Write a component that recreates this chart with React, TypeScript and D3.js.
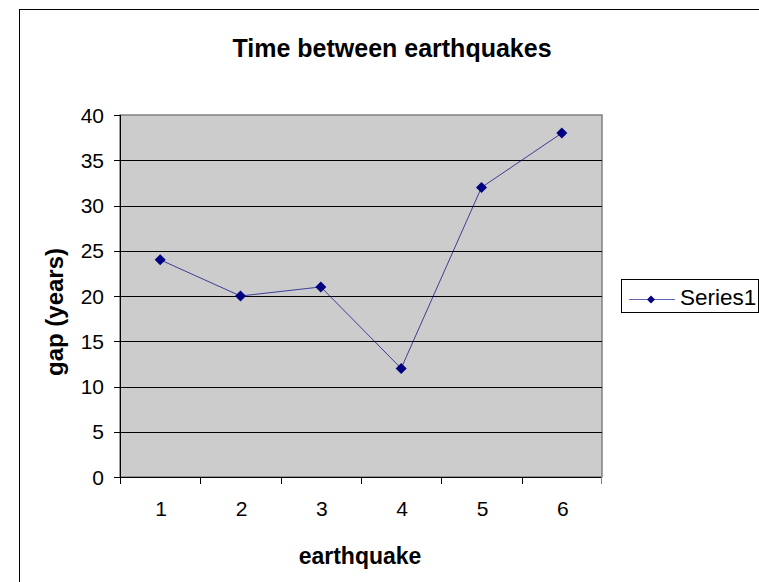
import React from "react";
import * as d3 from "d3";

const categories = ["1", "2", "3", "4", "5", "6"];
const values = [24, 20, 21, 12, 32, 38];
const yTicks = [0, 5, 10, 15, 20, 25, 30, 35, 40];

export default function App() {
  const W = 759, H = 582;
  const L = 120, R = 602, T = 115, B = 477;
  const x = d3.scaleBand<string>().domain(categories).range([L, R]);
  const y = d3.scaleLinear().domain([0, 40]).range([B, T]);
  const cx = (i: number) => (x(categories[i]) as number) + x.bandwidth() / 2;
  const line = d3.line<number>()
    .x((_, i) => cx(i))
    .y((d) => y(d));
  const font = "Arial, 'Liberation Sans', sans-serif";
  const diamond = (px: number, py: number, r = 5.5) =>
    `M${px},${py - r}L${px + r},${py}L${px},${py + r}L${px - r},${py}Z`;
  return (
    <svg width={W} height={H} style={{ position: "absolute", left: 0, top: 0 }}>
      <rect x={0} y={0} width={W} height={H} fill="#fff" />
      <rect x={19.5} y={9.5} width={W + 10} height={H + 10} fill="#fff" stroke="#000" strokeWidth={1} />
      <text x={392} y={57} textAnchor="middle" fontFamily={font} fontWeight="bold" fontSize={25}>
        Time between earthquakes
      </text>
      <rect x={L} y={T} width={R - L} height={B - T} fill="#cccccc" stroke="#808080" strokeWidth={1.5} />
      {yTicks.filter((t) => t > 0 && t < 40).map((t) => (
        <line key={t} x1={L} x2={R} y1={Math.round(y(t)) + 0.5} y2={Math.round(y(t)) + 0.5} stroke="#000" />
      ))}
      <line x1={L + 0.5} x2={L + 0.5} y1={T} y2={B} stroke="#000" />
      <line x1={L} x2={R} y1={B + 0.5} y2={B + 0.5} stroke="#000" />
      {yTicks.map((t) => (
        <g key={t}>
          <line x1={114} x2={L} y1={Math.round(y(t)) + 0.5} y2={Math.round(y(t)) + 0.5} stroke="#000" />
          <text x={104} y={y(t) + 7.5} textAnchor="end" fontFamily={font} fontSize={21}>{t}</text>
        </g>
      ))}
      {categories.map((c, i) => (
        <g key={c}>
          <line x1={Math.round(x(c) as number) + 0.5} x2={Math.round(x(c) as number) + 0.5} y1={B} y2={B + 7} stroke="#000" />
          <text x={cx(i) + 1} y={516} textAnchor="middle" fontFamily={font} fontSize={21}>{c}</text>
        </g>
      ))}
      <line x1={R - 0.5} x2={R - 0.5} y1={B} y2={B + 7} stroke="#808080" />
      <path d={line(values) || ""} fill="none" stroke="#000080" strokeWidth={1} strokeOpacity={0.7} />
      {values.map((v, i) => (
        <path key={i} d={diamond(cx(i), y(v))} fill="#000080" />
      ))}
      <text x={360} y={564} textAnchor="middle" fontFamily={font} fontWeight="bold" fontSize={23}>earthquake</text>
      <text transform={`translate(63,312) rotate(-90)`} textAnchor="middle" fontFamily={font} fontWeight="bold" fontSize={24}>gap (years)</text>
      <rect x={621.5} y={279.5} width={137} height={33} fill="#fff" stroke="#000" />
      <line x1={629} x2={675} y1={299.5} y2={299.5} stroke="#000080" strokeOpacity={0.6} />
      <path d={diamond(651, 299.5, 4)} fill="#000080" />
      <text x={680} y={304.5} fontFamily={font} fontSize={22.5}>Series1</text>
    </svg>
  );
}
